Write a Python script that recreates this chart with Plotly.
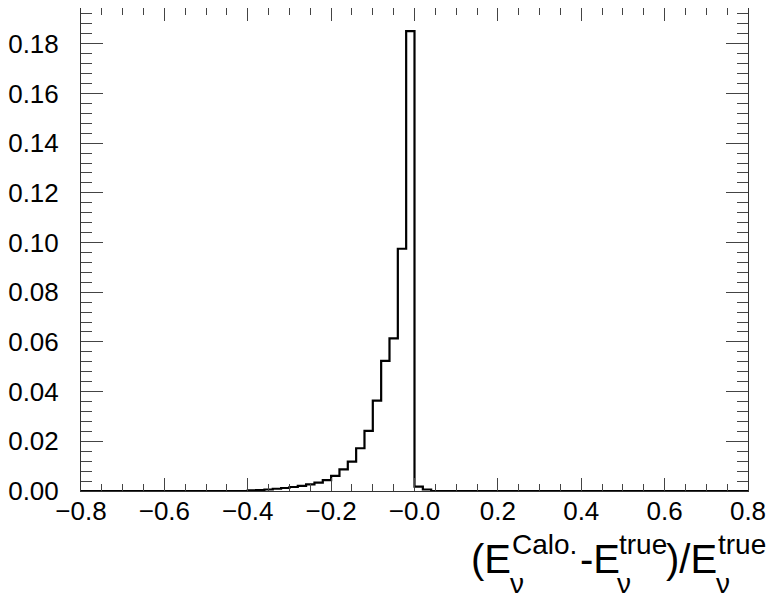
import plotly.graph_objects as go

# Histogram: bin width 0.02, range -0.8..0.8; only non-zero bins listed
bin_width = 0.02
first_bin_left = -0.42
values = [
    0.0000,  # -0.42
    0.0003,  # -0.40
    0.0004,  # -0.38
    0.0006,  # -0.36
    0.0009,  # -0.34
    0.0012,  # -0.32
    0.0016,  # -0.30
    0.0021,  # -0.28
    0.0027,  # -0.26
    0.0034,  # -0.24
    0.0044,  # -0.22
    0.0061,  # -0.20
    0.0087,  # -0.18
    0.0118,  # -0.16
    0.0172,  # -0.14
    0.0242,  # -0.12
    0.0364,  # -0.10
    0.0524,  # -0.08
    0.0614,  # -0.06
    0.0975,  # -0.04
    0.1851,  # -0.02
    0.0018,  # 0.00
    0.0006,  # 0.02
    0.0000,  # 0.04
]
x_min, x_max = -0.8, 0.8
y_max = 0.1944
x_tickvals = [-0.8, -0.6, -0.4, -0.2, 0.0, 0.2, 0.4, 0.6, 0.8]
x_ticktext = ["\u22120.8", "\u22120.6", "\u22120.4", "\u22120.2", "\u22120.0", "0.2", "0.4", "0.6", "0.8"]

edges = [first_bin_left + i * bin_width for i in range(len(values) + 1)]
xs = [x_min] + edges + [x_max]
ys = [0.0] + values + [0.0, 0.0]

fig = go.Figure()
fig.add_trace(go.Scatter(x=xs, y=ys, mode="lines", line=dict(shape="hv", color="black", width=2.2),
                         hoverinfo="skip", showlegend=False))

font = "Liberation Sans, Arial, Helvetica, sans-serif"
# page body has an 8px margin; figure sized so it fits the 780x596 window
fig.update_layout(
    width=772, height=588, autosize=False,
    margin=dict(l=73, r=32, t=0, b=105),
    paper_bgcolor="white", plot_bgcolor="white",
    font=dict(family=font, size=26, color="black"),
    showlegend=False,
)
fig.update_xaxes(
    range=[x_min, x_max], tickvals=x_tickvals, ticktext=x_ticktext,
    ticks="inside", ticklen=13, tickwidth=1, tickcolor="#444",
    minor=dict(dtick=0.05, ticks="inside", ticklen=7, tickwidth=1, tickcolor="#444", showgrid=False),
    showline=True, linecolor="#333", linewidth=1, mirror="ticks",
    showgrid=False, zeroline=False, ticklabelstandoff=-3,
    tickfont=dict(size=26),
)
fig.update_yaxes(
    range=[0, y_max], dtick=0.02, tick0=0, tickformat=".2f",
    ticks="inside", ticklen=22, tickwidth=1, tickcolor="#444",
    minor=dict(dtick=0.004, ticks="inside", ticklen=11, tickwidth=1, tickcolor="#444", showgrid=False),
    showline=True, linecolor="#333", linewidth=1, mirror="ticks",
    showgrid=False, zeroline=False, ticklabelstandoff=16,
    tickfont=dict(size=26),
)

# Axis title built from pieces (stacked super/subscripts like ROOT's TLatex)
PW, PH = 667, 483
def px(X):
    return (X - 81) / PW
def py(Y):
    return (491 - Y) / PH

big, small = 40, 28
pieces = [
    ("(E", 469, 559, big),
    ("Calo.", 510, 544, small),
    ("\u03bd", 508, 583, small),
    ("-E", 578, 559, big),
    ("true", 617, 544, small),
    ("\u03bd", 615, 583, small),
    (")/E", 664, 559, big),
    ("true", 716, 544, small),
    ("\u03bd", 714, 583, small),
]
for txt, X, Y, s in pieces:
    fig.add_annotation(text=txt, xref="paper", yref="paper", x=px(X), y=py(Y),
                       xanchor="left", yanchor="middle", showarrow=False,
                       font=dict(family=font, size=s, color="black"))

fig.write_html("out.html")
